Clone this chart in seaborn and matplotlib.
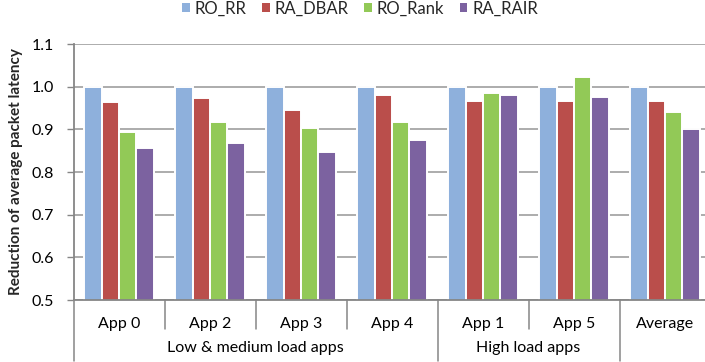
import numpy as np
import pandas as pd
import seaborn as sns
import matplotlib
matplotlib.use("Agg")
import matplotlib.pyplot as plt
from matplotlib.patches import Patch
from matplotlib.transforms import blended_transform_factory

# Normalised average packet latency per application and routing scheme
apps = ["App 0", "App 2", "App 3", "App 4", "App 1", "App 5", "Average"]
schemes = ["RO_RR", "RA_DBAR", "RO_Rank", "RA_RAIR"]
ro_rr = [1.000, 1.000, 1.000, 1.000, 1.000, 1.000, 1.000]
ra_dbar = [0.964, 0.973, 0.945, 0.980, 0.966, 0.967, 0.966]
ro_rank = [0.894, 0.918, 0.902, 0.918, 0.985, 1.023, 0.940]
ra_rair = [0.856, 0.867, 0.846, 0.876, 0.980, 0.975, 0.900]
yticks = [0.5, 0.6, 0.7, 0.8, 0.9, 1.0, 1.1]

# Load-class groups: label and (first, last) app index
groups = ["Low & medium load apps", "High load apps"]
group_spans = [(0, 3), (4, 5)]

colors = ["#8EB0DC", "#BA4E4B", "#92C957", "#7C62A0"]
grey = "#868686"

df = pd.DataFrame({
    "app": apps * 4,
    "scheme": np.repeat(schemes, len(apps)),
    "value": ro_rr + ra_dbar + ro_rank + ra_rair,
})

sns.set_theme(style="white")
plt.rcParams["font.family"] = ["Lato", "DejaVu Sans"]

W, H = 705, 362
fig = plt.figure(figsize=(W / 100, H / 100), dpi=100)
ax = fig.add_axes([73.5 / W, 1 - 300 / H, 637 / W, 256 / H])

sns.barplot(data=df, x="app", y="value", hue="scheme", order=apps,
            hue_order=schemes, palette=colors, saturation=1, width=0.76,
            edgecolor="white", linewidth=1.4, ax=ax, zorder=2, legend=False)

ax.set_xlim(-0.5, len(apps) - 0.5)
ax.set_ylim(yticks[0], yticks[-1])
ax.set_yticks(yticks)
ax.set_yticklabels([f"{v:.1f}" for v in yticks])
ax.yaxis.grid(True, color="#A6A6A6", linewidth=1.3, zorder=0)
ax.set_axisbelow(True)

for side in ("top", "right"):
    ax.spines[side].set_visible(False)
for side in ("left", "bottom"):
    ax.spines[side].set_color(grey)
    ax.spines[side].set_linewidth(1.3)

ax.tick_params(axis="y", length=5, width=1, color=grey, pad=9,
               labelsize=11.5, labelcolor="black", left=True)
ax.tick_params(axis="x", length=0, pad=12, labelsize=11.5, labelcolor="black")
ax.set_xlabel("")
ax.set_ylabel("Reduction of average packet latency", fontweight="bold",
              fontsize=11, labelpad=6)

# Category separators below the axis: short inside a group, long at group edges
trans = blended_transform_factory(ax.transData, ax.transAxes)
long_edges = {-0.5}
for a, b in group_spans:
    long_edges.update({a - 0.5, b + 0.5})
long_edges.add(len(apps) - 0.5)
for i in range(len(apps) + 1):
    x = i - 0.5
    y_end = -0.24 if x in long_edges else -0.113
    ax.plot([x, x], [0, y_end], transform=trans, color=grey, lw=1.1,
            clip_on=False, zorder=3)

for label, (a, b) in zip(groups, group_spans):
    ax.text((a + b) / 2, -0.1875, label, transform=trans, ha="center",
            va="center", fontsize=11.5, color="black")

handles = [Patch(facecolor=c, edgecolor="none", label=s)
           for c, s in zip(colors, schemes)]
fig.legend(handles=handles, loc="center", bbox_to_anchor=(360 / W, 1 - 8.5 / H),
           ncol=4, frameon=False, handlelength=0.45, handleheight=0.45,
           columnspacing=0.94, handletextpad=0.3, fontsize=12,
           borderaxespad=0, borderpad=0)

fig.savefig("out.png", dpi=100)
